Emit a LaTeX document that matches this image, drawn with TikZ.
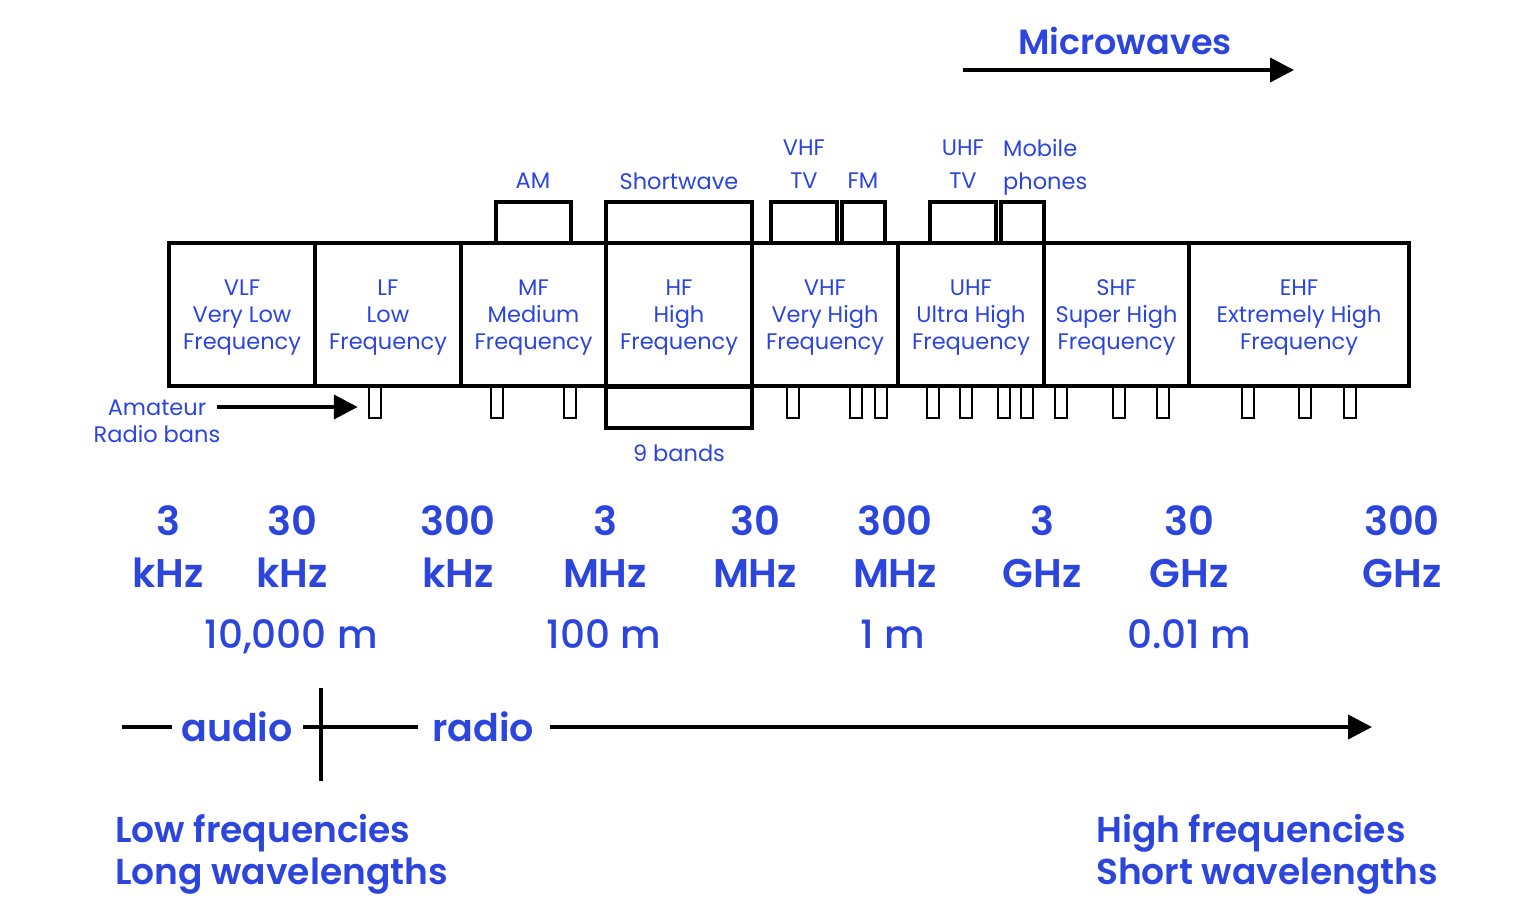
\documentclass[tikz,border=0pt]{standalone}
\usepackage{fontspec}
\setmainfont{Poppins}
\newfontfamily\medfont{Poppins Medium}
\newfontfamily\sbfont{Poppins SemiBold}
\usetikzlibrary{arrows.meta}
\definecolor{myblue}{HTML}{2B45DD}
\begin{document}
\begin{tikzpicture}[x=1pt,y=-1pt,
  bandbox/.style={draw=black,line width=4pt,minimum height=143pt,inner sep=0pt,text=myblue,align=center,font=\fontsize{22.5}{27}\selectfont},
  topbox/.style={draw=black,line width=4pt,minimum height=41pt,inner sep=0pt},
  amrect/.style={draw=black,line width=2.5pt,minimum width=12pt,minimum height=32pt,inner sep=0pt,fill=white},
  lbl/.style={text=myblue,font=\fontsize{22.5}{33}\selectfont,inner sep=0pt,align=center},
  freq/.style={text=myblue,font=\fontsize{40}{52}\sbfont,inner sep=0pt,align=center},
  wave/.style={text=myblue,font=\fontsize{39}{40}\medfont,inner sep=0pt,anchor=base},
  big/.style={text=myblue,font=\fontsize{36}{42}\sbfont,inner sep=0pt,align=left},
  conn/.style={draw=black,line width=4pt},
  arr/.style={conn,-{Triangle[length=24pt,width=24pt]}}
]
\useasboundingbox (0,0) rectangle (1536,922);
% small amateur radio band rectangles
\foreach \n/\x in {a1/375,a2/497,a3/570,a4/793,a5/856,a6/881,a7/933,a8/966,a9/1004,a10/1027,a11/1061,a12/1119,a13/1163,a14/1248,a15/1305,a16/1350}{
  \node[amrect] (\n) at (\x,402) {};
}
% HF 9 bands box below
\node[topbox,minimum width=146pt] (nine) at (679,407) {};
\node[lbl] (ninel) at (679,453) {9 bands};
% top boxes
\node[topbox,minimum width=75pt] (am) at (533.5,222.5) {};
\node[topbox,minimum width=146pt] (sw) at (679,222.5) {};
\node[topbox,minimum width=66pt] (vtv) at (804,222.5) {};
\node[topbox,minimum width=43pt] (fm) at (863.5,222.5) {};
\node[topbox,minimum width=66pt] (utv) at (963,222.5) {};
\node[topbox,minimum width=43pt] (mob) at (1022.5,222.5) {};
% main bands
\begin{scope}[every node/.append style={text depth=0pt}]
\node[bandbox,minimum width=146pt] (vlf) at (242,314.5) {VLF\\Very Low\\Frequency};
\node[bandbox,minimum width=146pt] (lf) at (388,314.5) {LF\\Low\\Frequency};
\node[bandbox,minimum width=145pt] (mf) at (533.5,314.5) {MF\\Medium\\Frequency};
\node[bandbox,minimum width=146pt] (hf) at (679,314.5) {HF\\High\\Frequency};
\node[bandbox,minimum width=146pt] (vhf) at (825,314.5) {VHF\\Very High\\Frequency};
\node[bandbox,minimum width=146pt] (uhf) at (971,314.5) {UHF\\Ultra High\\Frequency};
\node[bandbox,minimum width=145pt] (shf) at (1116.5,314.5) {SHF\\Super High\\Frequency};
\node[bandbox,minimum width=220pt] (ehf) at (1299,314.5) {EHF\\Extremely High\\Frequency};
\end{scope}
% top labels
\node[lbl] (aml) at (533,181) {AM};
\node[lbl] (swl) at (679,181) {Shortwave};
\node[lbl] (vtvl) at (804,164.5) {VHF\\TV};
\node[lbl] (fml) at (863,181) {FM};
\node[lbl] (utvl) at (963,164.5) {UHF\\TV};
\node[lbl,anchor=west,align=left] (mobl) at (1003,167.5) {Mobile\\phones};
% amateur label and arrow
\node[lbl] (amat) at (157,421) {Amateur\\[-6pt]Radio bans};
\coordinate (amstart) at (217,407);
\draw[arr] (amstart) -- ([xshift=-10pt]a1.west |- amstart);
% frequencies
\node[freq] (f1) at (168,547) {3\\kHz};
\node[freq] (f2) at (292,547) {30\\kHz};
\node[freq] (f3) at (458,547) {300\\kHz};
\node[freq] (f4) at (605,547) {3\\MHz};
\node[freq] (f5) at (755,547) {30\\MHz};
\node[freq] (f6) at (895,547) {300\\MHz};
\node[freq] (f7) at (1042,547) {3\\GHz};
\node[freq] (f8) at (1189,547) {30\\GHz};
\node[freq] (f9) at (1402,547) {300\\GHz};
% wavelengths
\node[wave] (w1) at (291,648) {10,000 m};
\node[wave] (w2) at (604,648) {100 m};
\node[wave] (w3) at (893,648) {1 m};
\node[wave] (w4) at (1189,648) {0.01 m};
% microwaves
\node[text=myblue,font=\fontsize{35}{40}\sbfont,inner sep=0pt] (micro) at (1125,41) {Microwaves};
\coordinate (ms) at (963,70);
\coordinate (me) at (1294,70);
\draw[arr] (ms) -- (me);
% audio radio axis
\node[text=myblue,font=\fontsize{38}{40}\sbfont,inner sep=0pt] (audio) at (237,727) {audio};
\node[text=myblue,font=\fontsize{38}{40}\sbfont,inner sep=0pt] (radio) at (483,727) {radio};
\coordinate (ax0) at (122,727);
\coordinate (ax1) at (303,727);
\coordinate (ax2) at (418,727);
\coordinate (ax3) at (550,727);
\coordinate (ax4) at (1372,727);
\coordinate (vt) at (321,688);
\coordinate (vb) at (321,781);
\draw[conn] (ax0) -- (172,727);
\draw[conn] (ax1) -- (ax2);
\draw[conn] (vt) -- (vb);
\draw[arr] (ax3) -- (ax4);
% bottom texts
\node[big,anchor=north west] (low) at (115,814) {Low frequencies\\Long wavelengths};
\node[big,anchor=north west] (high) at (1096,814) {High frequencies\\Short wavelengths};
\end{tikzpicture}
\end{document}
